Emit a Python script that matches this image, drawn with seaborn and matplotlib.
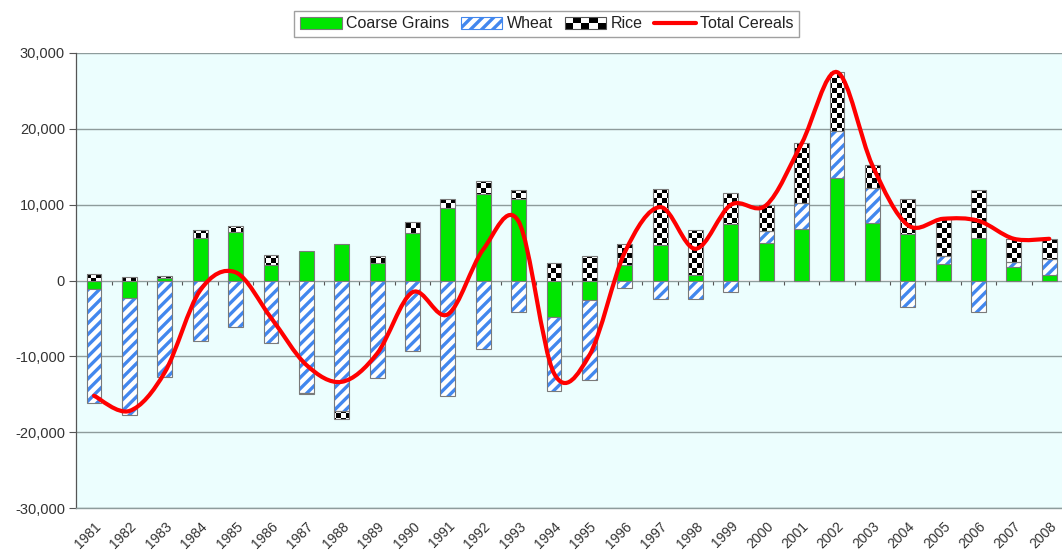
import numpy as np
import matplotlib
matplotlib.use("Agg")
import matplotlib.pyplot as plt
import seaborn as sns
from matplotlib.path import Path
from matplotlib.patches import PathPatch, Rectangle, Patch
from matplotlib.lines import Line2D
from matplotlib.legend_handler import HandlerBase
from matplotlib.ticker import FuncFormatter

# values (thousand tonnes, net change per year)
years = [str(y) for y in range(1981, 2009)]
coarse = [-1100, -2300, 350, 5630, 6370, 2100, 3870, 4840, 2330, 6290,
          9500, 11350, 10780, -4790, -2630, 1980, 4660, 700, 7390, 4970,
          6820, 13550, 7520, 6070, 2110, 5540, 1800, 790]
wheat = [-15000, -15400, -12750, -8000, -6160, -8300, -14800, -17200, -12840, -9240,
         -15260, -9000, -4120, -9770, -10530, -1050, -2420, -2420, -1500, 1540,
         3340, 6150, 4710, -3470, 1100, -4130, 670, 1980]
rice = [900, 500, 300, 1070, 870, 1300, -200, -1000, 870, 1400,
        1300, 1750, 1120, 2330, 3290, 2770, 7440, 5900, 4090, 3430,
        7910, 7780, 2940, 4710, 4930, 6460, 3030, 2730]
series_labels = ["Coarse Grains", "Wheat", "Rice", "Total Cereals"]

GREEN = "#00E600"
BLUE = "#4287EE"
EDGE = "#7A7A7A"
GRID = "#8E9C9C"
BG = "#ECFEFE"

sns.set_theme(style="white")
plt.rcParams["font.family"] = ["Liberation Sans", "DejaVu Sans"]
plt.rcParams["hatch.linewidth"] = 2.4

fig = plt.figure(figsize=(10.62, 5.6), dpi=100)
ax = fig.add_axes([76 / 1062, 1 - 508 / 560, (1067 - 76) / 1062, (508 - 53) / 560])
ax.set_facecolor(BG)

x = np.arange(len(years))
bw = 0.42

# stack positives upward and negatives downward, in series order
pos_base = np.zeros(len(years))
neg_base = np.zeros(len(years))

def bottoms(vals):
    vals = np.asarray(vals, dtype=float)
    b = np.where(vals >= 0, pos_base, neg_base)
    pos_base[:] += np.where(vals >= 0, vals, 0)
    neg_base[:] += np.where(vals < 0, vals, 0)
    return b

# coarse grains always sit on the zero line
sns.barplot(x=years, y=coarse, color=GREEN, saturation=1, width=bw,
            edgecolor=EDGE, linewidth=0.8, errorbar=None, ax=ax, zorder=2)
bottoms(coarse)

wb = bottoms(wheat)
ax.bar(x, wheat, bw, bottom=wb, color="white", edgecolor=BLUE, linewidth=0,
       hatch="///", zorder=2)
ax.bar(x, wheat, bw, bottom=wb, fill=False, edgecolor=EDGE, linewidth=0.8, zorder=2.2)

rb = bottoms(rice)
rice_bars = ax.bar(x, rice, bw, bottom=rb, color="white", linewidth=0, zorder=2)
ax.bar(x, rice, bw, bottom=rb, fill=False, edgecolor=EDGE, linewidth=0.8, zorder=2.2)

# checkerboard texture clipped to the rice bars
checker = (np.indices((91, 198)).sum(axis=0) % 2).astype(float)
im = ax.imshow(checker, extent=[0, 1, 0, 1], transform=ax.transAxes, cmap="gray",
               vmin=0, vmax=1, interpolation="nearest", aspect="auto", zorder=2.1)
clip = Path.make_compound_path(*[p.get_path().transformed(p.get_patch_transform())
                                 for p in rice_bars.patches])
im.set_clip_path(clip, ax.transData)

# smoothed total line (Bezier through the yearly totals)
total = np.array(coarse) + np.array(wheat) + np.array(rice)
pts = np.column_stack([x, total]).astype(float)
verts = [pts[0]]
codes = [Path.MOVETO]
n = len(pts)
for i in range(n - 1):
    p0 = pts[i - 1] if i > 0 else pts[i]
    p1, p2 = pts[i], pts[i + 1]
    p3 = pts[i + 2] if i + 2 < n else pts[i + 1]
    verts += [p1 + (p2 - p0) / 6, p2 - (p3 - p1) / 6, p2]
    codes += [Path.CURVE4] * 3
ax.add_patch(PathPatch(Path(verts, codes), fill=False, edgecolor="#FF0000",
                       linewidth=3, capstyle="round", zorder=3))

ax.set_xlim(-0.51, len(years) - 0.5)
ax.set_ylim(-30000, 30000)
ax.set_yticks(range(-30000, 30001, 10000))
ax.yaxis.set_major_formatter(FuncFormatter(lambda v, p: f"{int(v):,}"))
ax.grid(axis="y", color=GRID, linewidth=1)
ax.set_axisbelow(True)
ax.set_xlabel("")
ax.set_ylabel("")

ax.set_xticks(x)
ax.set_xticklabels(years, rotation=45, ha="right", rotation_mode="anchor")
ax.tick_params(axis="x", length=0, pad=8, labelsize=10, labelcolor="#333333")
ax.tick_params(axis="y", left=True, length=5, width=0.8, color="#555555",
               labelsize=10.5, labelcolor="#333333", pad=3)

for s in ["top", "right"]:
    ax.spines[s].set_visible(False)
ax.spines["left"].set_color("#555555")
ax.spines["left"].set_linewidth(0.9)
ax.spines["bottom"].set_color(GRID)
ax.spines["bottom"].set_linewidth(1)

# category tick marks on the zero line
secax = ax.secondary_xaxis(0.5)
secax.set_alignment("bottom")
secax.set_xticks(x[:-1] + 0.5)
secax.tick_params(axis="x", length=3, width=0.8, color="#555555",
                  direction="out", labelbottom=False, labeltop=False)
for s in secax.spines.values():
    s.set_visible(False)


class CheckerHandler(HandlerBase):
    def create_artists(self, legend, orig_handle, xdescent, ydescent,
                       width, height, fontsize, trans):
        arts = []
        cols, rows = 5, 2
        w, h = width / cols, height / rows
        for i in range(cols):
            for j in range(rows):
                c = "black" if (i + j) % 2 == 0 else "white"
                arts.append(Rectangle((-xdescent + i * w, -ydescent + j * h), w, h,
                                      facecolor=c, edgecolor="none", transform=trans))
        arts.append(Rectangle((-xdescent, -ydescent), width, height, fill=False,
                              edgecolor="#555555", linewidth=0.8, transform=trans))
        return arts


rice_handle = Patch(facecolor="white")
handles = [
    Patch(facecolor=GREEN, edgecolor=EDGE, linewidth=0.8),
    Patch(facecolor="white", edgecolor=BLUE, hatch="///", linewidth=0.8),
    rice_handle,
    Line2D([0], [0], color="#FF0000", linewidth=3),
]
leg = fig.legend(handles, series_labels, ncol=4, loc="upper center",
                 bbox_to_anchor=(0.515, 0.995), fontsize=11.5, frameon=True,
                 fancybox=False, edgecolor="#888888", handlelength=2.6,
                 handleheight=0.8, handletextpad=0.3, columnspacing=0.7,
                 borderpad=0.35, handler_map={rice_handle: CheckerHandler()})
leg.get_frame().set_linewidth(1)
for t in leg.get_texts():
    t.set_color("#222222")

fig.savefig("out.png", dpi=100)
